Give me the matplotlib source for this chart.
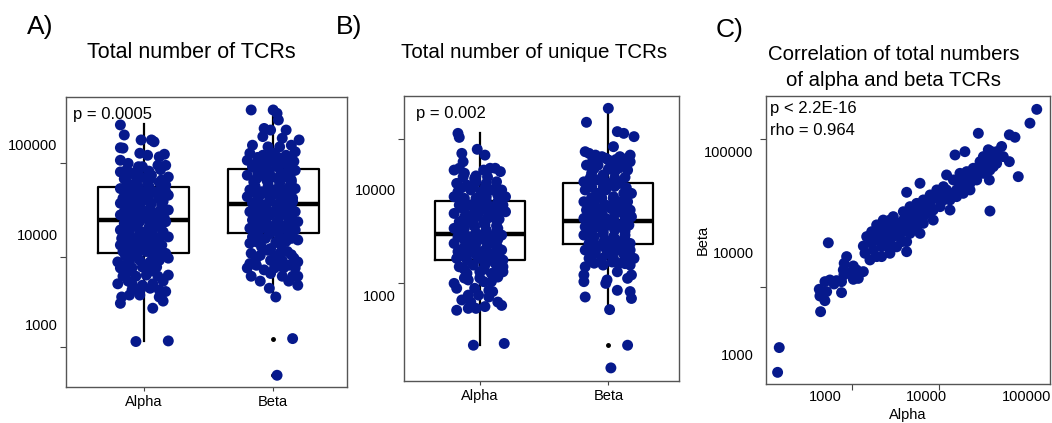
import matplotlib.pyplot as plt

plt.rcParams['font.family'] = ['Liberation Sans', 'DejaVu Sans']

W, H = 1052, 423
dot = '#06198c'

# ---- panel A: total number of TCRs (jitter offset, count)
a_alpha_jit = [-0.18, -0.15, -0.02, 0.06, 0.08, -0.18, -0.16, -0.03, 0.03, 0.16, 0.12,
               -0.18, -0.12, -0.04, -0.01, 0.11, 0.17, -0.18, -0.09, -0.02, 0.06, 0.19,
               -0.13, -0.06, 0.03, 0.12, 0.17, -0.18, -0.09, -0.01, 0.08, 0.17,
               -0.16, -0.07, 0.02, 0.12, 0.19, -0.18, -0.11, -0.03, 0.06, 0.14,
               -0.15, -0.06, 0.03, 0.12, 0.19, -0.18, -0.09, -0.01, 0.08, 0.16,
               -0.15, -0.06, 0.05, 0.12, 0.17, -0.18, -0.11, -0.02, 0.07, 0.15,
               -0.17, -0.08, 0.01, 0.10, 0.19, -0.18, -0.09, -0.02, 0.06, 0.14,
               -0.16, -0.07, 0.02, 0.11, 0.17, -0.20, -0.11, -0.03, 0.05, 0.12, 0.19,
               -0.18, -0.09, -0.01, 0.10, -0.16, -0.06, 0.02, 0.11, 0.19,
               -0.20, -0.09, -0.01, 0.07, -0.09, -0.02, 0.05, 0.12, 0.17,
               -0.17, -0.11, -0.03, 0.12, -0.18, 0.15, 0.07, -0.06, 0.19,
               -0.13, -0.05, 0.04, 0.13, -0.15, -0.05, 0.05, 0.14,
               -0.13, -0.04, 0.04, 0.14, -0.14, -0.05, 0.05, 0.14,
               -0.13, -0.04, 0.04, 0.15, -0.12, -0.03, 0.05, 0.14,
               -0.13, -0.04, 0.04, 0.14, -0.12, -0.03, 0.06, 0.14,
               -0.13, -0.05, 0.04, 0.13, -0.13, -0.03, 0.05, 0.14,
               -0.13, -0.05, 0.04, 0.12, -0.12, -0.03, 0.07,
               -0.14, -0.05, 0.07, 0.15, -0.13, 0.03, -0.12, 0.06, 0.15, -0.12]
a_alpha = [163000, 126000, 111000, 111000, 106000, 91000, 90000, 79000, 75000, 77000, 72000,
           66000, 61000, 56000, 56000, 58000, 58000, 49000, 47000, 43000, 45000, 43000,
           38000, 37000, 37000, 37500, 35000, 32000, 31000, 29500, 29500, 29500,
           25000, 26000, 24000, 25000, 27000, 22000, 21000, 21000, 22000, 21000,
           17700, 18500, 17700, 17700, 18500, 16300, 15600, 14900, 15600, 14900,
           13100, 12600, 13100, 13100, 13700, 11100, 10600, 10600, 11100, 10600,
           8950, 8950, 8600, 8950, 9300, 7550, 7200, 7550, 7200, 7550,
           6400, 6100, 6400, 6400, 6100, 4900, 4900, 5100, 4900, 5100, 5400,
           4200, 4200, 4300, 4300, 3400, 3400, 3500, 3400, 3500,
           2800, 2800, 2700, 2800, 2400, 2500, 2500, 2400, 2300,
           2000, 2100, 2100, 2000, 1700, 1800, 1500, 640, 650,
           52000, 51000, 50000, 52000, 41000, 40000, 41000, 40000,
           34000, 33000, 34000, 33000, 28000, 27500, 28000, 27000,
           23500, 23000, 23500, 23000, 19500, 20000, 19500, 20000,
           16800, 16500, 16800, 16500, 14000, 13800, 14000, 14200,
           11800, 12000, 11800, 12000, 9800, 9900, 9800, 9700,
           8200, 8300, 8200, 8100, 6900, 6800, 6900,
           5700, 5600, 5700, 5800, 4600, 4600, 3800, 3900, 3000, 3000]
a_beta_jit = [-0.17, 0.00, 0.03, 0.04, -0.07, -0.02, 0.10, -0.08, 0.07, 0.20,
              -0.16, -0.04, 0.05, 0.14, -0.18, -0.08, 0.01, 0.10, 0.17,
              -0.20, -0.12, -0.02, 0.07, 0.16, -0.16, -0.07, 0.03, 0.12, 0.17,
              -0.20, -0.09, -0.01, 0.10, -0.15, -0.04, 0.05, 0.14,
              -0.18, -0.09, 0.01, 0.10, 0.17, -0.20, -0.11, -0.02, 0.07, 0.15,
              -0.16, -0.07, 0.03, 0.11, -0.18, -0.09, 0.01, 0.10, 0.17,
              -0.16, -0.07, 0.03, 0.12, 0.19, -0.18, -0.09, -0.01, 0.08, 0.17,
              -0.16, -0.06, 0.05, 0.14, 0.19, -0.18, -0.09, -0.02, 0.06,
              -0.17, -0.04, 0.05, 0.11, -0.13, -0.02, 0.07, 0.16,
              -0.18, 0.02, 0.12, 0.19, -0.20, -0.13, -0.07, 0.01, 0.08, 0.17,
              -0.17, -0.02, 0.07, 0.15, 0.19, -0.03, 0.19, 0.02, 0.15, 0.03,
              -0.12, -0.03, 0.05, 0.13, -0.14, -0.05, 0.05, 0.14,
              -0.12, -0.03, 0.06, 0.14, -0.13, -0.05, 0.04, 0.14,
              -0.14, -0.04, 0.05, 0.13, -0.13, -0.04, 0.04, 0.13,
              -0.12, -0.03, 0.06, 0.15, -0.13, -0.05, 0.05, 0.14,
              -0.12, -0.03, 0.05, 0.14, -0.13, -0.04, 0.05, 0.13,
              -0.12, -0.03, 0.04, 0.12, -0.13, 0.02, 0.10,
              -0.10, 0.02, 0.14, -0.10, 0.12]
a_beta = [239000, 239000, 219000, 185000, 149000, 143000, 143000, 121000, 116000, 111000,
          97000, 93000, 93000, 97000, 79000, 75000, 79000, 75000, 82000,
          66000, 64000, 64000, 66000, 64000, 56000, 54000, 56000, 54000, 51000,
          45000, 45000, 43000, 43000, 38000, 37000, 37000, 38000,
          31000, 29500, 31000, 29500, 32000, 26000, 26000, 25000, 26000, 25000,
          22000, 21000, 21000, 22000, 17700, 17000, 17700, 17000, 17700,
          14300, 14300, 13700, 14300, 13700, 11600, 11600, 11100, 11600, 11100,
          9300, 8950, 9300, 8950, 8600, 7900, 7200, 6900, 7550,
          6100, 6600, 6100, 6400, 5400, 5100, 5100, 5400,
          4700, 4700, 4500, 4900, 4200, 4500, 4000, 4200, 4200, 4200,
          3400, 3650, 3400, 3400, 3400, 2500, 2700, 2000, 690, 270,
          71000, 72000, 70000, 71000, 59000, 60000, 59000, 60000,
          49000, 50000, 48000, 49000, 41000, 40000, 41000, 40000,
          34000, 33500, 34000, 34500, 28000, 27500, 28000, 27500,
          23500, 23000, 23500, 23000, 19500, 19000, 19500, 19800,
          15800, 16000, 15800, 15600, 12800, 12600, 12800, 12500,
          10200, 10000, 10300, 10000, 8200, 8100, 8300,
          5800, 5600, 5900, 3000, 3000]
# box stats: whisker low, q1, median, q3, whisker high
a_alpha_box = [650, 6150, 14300, 33200, 167000]
a_beta_box = [2000, 10200, 21500, 53000, 239000]
a_beta_out = [680, 270]

# ---- panel B: total number of unique TCRs
b_alpha_jit = [-0.17, -0.16, -0.02, 0.04, -0.14, -0.13, -0.20, -0.16,
               -0.12, -0.04, 0.03, 0.08, 0.12, 0.16, -0.18, -0.10, -0.03, 0.05, 0.13,
               -0.17, -0.07, 0.01, 0.10, 0.17, -0.20, -0.12, -0.03, 0.05, 0.14, 0.20,
               -0.16, -0.08, 0.01, 0.09, 0.18, -0.20, -0.10, -0.01, 0.07, 0.14, 0.20,
               -0.16, -0.07, 0.03, 0.12, -0.20, -0.12, -0.04, 0.05, 0.14,
               -0.17, -0.08, 0.01, 0.09, 0.17, -0.20, -0.10, -0.03, 0.07, 0.13,
               -0.17, -0.07, 0.01, 0.10, 0.17, -0.18, -0.10, -0.01, 0.08, 0.18,
               -0.16, -0.05, 0.04, 0.12, 0.18, -0.10, 0.00, 0.09, 0.18,
               -0.09, 0.03, 0.09, -0.20, -0.18, -0.04, 0.07, 0.10,
               -0.09, -0.01, 0.07, -0.14, -0.07, 0.14, 0.17,
               -0.18, -0.09, -0.03, 0.04, -0.05, 0.19,
               -0.13, -0.03, 0.06, -0.14, -0.05, 0.04, 0.13,
               -0.13, -0.03, 0.05, 0.14, -0.13, -0.04, 0.04, 0.13,
               -0.12, -0.03, 0.06, 0.15, -0.13, -0.05, 0.04, 0.13,
               -0.13, -0.03, 0.05, 0.13, -0.12, -0.04, 0.04, 0.14,
               -0.13, -0.04, 0.05, 0.14, -0.13, -0.03, 0.05, 0.14,
               -0.12, 0.03, 0.13, -0.12, 0.00, 0.14]
b_alpha = [33500, 30700, 23700, 20900, 21700, 18100, 15100, 15700,
           14100, 12600, 15100, 15700, 15700, 14600, 11300, 10900, 11700, 11300, 11700,
           9440, 9800, 9440, 9800, 9800, 8470, 8160, 8160, 8470, 8780, 8470,
           7060, 7060, 7330, 6810, 7060, 5890, 5680, 5890, 5680, 5890, 6110,
           4920, 5100, 4920, 5290, 4260, 4260, 4410, 4100, 4260,
           3550, 3550, 3680, 3550, 3680, 3070, 2960, 3070, 3070, 2960,
           2570, 2570, 2570, 2470, 2660, 2220, 2140, 2220, 2140, 2140,
           1850, 1920, 1920, 1990, 1850, 1600, 1660, 1600, 1660,
           1390, 1340, 1340, 1290, 1160, 1160, 1110, 1080,
           1000, 1000, 960, 900, 860, 860, 800,
           720, 750, 750, 780, 337, 350,
           13000, 13300, 13000, 10300, 10500, 10300, 10200,
           7800, 7700, 7800, 7600, 6500, 6400, 6500, 6300,
           5400, 5500, 5300, 5200, 4600, 4700, 4600, 4500,
           3900, 3850, 3900, 3950, 3300, 3250, 3300, 3350,
           2750, 2800, 2750, 2800, 2350, 2400, 2350, 2300,
           1750, 1750, 1720, 1450, 1450, 1480]
b_beta_jit = [0.00, -0.17, 0.07, 0.12, 0.20, 0.04,
              -0.18, -0.15, -0.10, -0.05, 0.00, 0.09, 0.17,
              -0.17, -0.08, 0.02, 0.11, 0.17, -0.13, -0.04, 0.05, 0.15,
              -0.19, -0.08, 0.00, 0.09, -0.18, -0.09, -0.02, 0.04, 0.12, 0.18,
              -0.19, -0.11, -0.02, 0.07, 0.15, -0.17, -0.08, 0.02, 0.09, 0.17,
              -0.19, -0.10, -0.02, 0.05, 0.13, 0.18, -0.18, -0.09, 0.00, 0.09, 0.16,
              -0.19, -0.11, -0.04, 0.04, 0.13, -0.15, -0.06, 0.02, 0.09, 0.17,
              -0.18, -0.10, -0.01, 0.08, 0.17, -0.15, -0.05, 0.04, 0.13, 0.20,
              -0.18, -0.04, 0.08, 0.17, -0.19, -0.01, 0.07, 0.15, 0.18,
              -0.19, -0.02, 0.07, -0.18, 0.17, 0.18, 0.01, 0.15, 0.02,
              -0.12, -0.02, 0.06, 0.14, -0.11, 0.00, 0.08,
              -0.14, -0.04, 0.05, 0.13, -0.13, -0.04, 0.05, 0.14,
              -0.13, -0.05, 0.04, 0.13, -0.13, -0.04, 0.05, 0.13,
              -0.14, -0.05, 0.05, 0.13, -0.13, -0.04, 0.04, 0.13,
              -0.13, -0.04, 0.05, 0.13, -0.12, -0.03, 0.05, 0.13,
              -0.12, -0.03, 0.06, 0.14, -0.12, 0.02, 0.12, -0.11, 0.03, 0.13]
b_beta = [57700, 42600, 34800, 33500, 31200, 25100,
          22500, 21700, 20900, 20200, 18800, 20200, 20900,
          16800, 16800, 16200, 18100, 18100, 14100, 13600, 14600, 15100,
          11700, 12200, 11300, 11300, 9800, 9100, 9800, 8470, 9100, 9100,
          7600, 7330, 7060, 7600, 7600, 6340, 6110, 6570, 6110, 6340,
          5290, 5100, 5290, 4920, 5480, 5480, 4410, 4410, 4570, 4410, 4570,
          3680, 3550, 3820, 3550, 3680, 3070, 2960, 3070, 3190, 3070,
          2660, 2570, 2570, 2660, 2660, 2220, 2220, 2220, 2300, 2220,
          1850, 1920, 1990, 1920, 1550, 1390, 1660, 1440, 1550,
          1340, 1290, 1110, 960, 1080, 930, 730, 337, 206,
          19000, 19500, 19000, 19300, 15600, 15400, 15700,
          12800, 13000, 12700, 12900, 10500, 10400, 10600, 10300,
          8300, 8200, 8100, 8300, 6900, 6800, 6900, 6800,
          5800, 5900, 5800, 5900, 4900, 4800, 4900, 5000,
          4100, 4000, 4100, 4000, 3350, 3300, 3400, 3350,
          2800, 2850, 2800, 2750, 2400, 2400, 2450, 2000, 2050, 1980]
b_alpha_box = [337, 2140, 3730, 7700, 33500]
b_beta_box = [730, 3030, 5030, 11300, 57700]
b_beta_out = [337, 206]

# ---- panel C: alpha vs beta totals
c_alpha = [340, 353, 906, 879, 892, 1000, 1040, 1000, 1120, 1300, 1230, 1460, 1460,
           1540, 1520, 1700, 1550, 1640, 1080, 1910, 2060, 1910, 2140, 2400,
           2400, 2490, 2790, 3010, 3250, 3640, 3780, 3250, 3640, 4400, 4400, 4750,
           5130, 5740, 5970, 6440, 6440, 3010, 3640, 4400, 4080, 4940, 5320, 5970,
           6950, 7500, 8090, 9420, 11000, 5970, 6950, 8090, 9420, 11000, 12800,
           14900, 17300, 17300, 21700, 25300, 29400, 31800, 34300, 39900, 43000,
           46400, 50100, 56100, 20100, 23400, 8730, 6440, 16000, 19400, 24300,
           33000, 66900, 76100, 107000, 125000, 66900, 82000, 43000, 42400, 31800,
           27300, 23400, 20100, 14900, 12800, 11000, 9420, 8090, 6950, 6440, 4750,
           4400, 3780, 3250, 2900, 2590, 2900, 3640, 4400, 5320, 6950, 8730, 9420,
           11800, 13800, 14900, 17300, 20100, 23400, 27300, 31800, 37000, 43000,
           50100, 58300, 46400, 34300, 29400, 25300, 21700, 18700, 16000, 13800,
           11800, 10200, 8090, 6950, 3640, 3930, 5130, 5970, 6690, 44700, 39900,
           37000, 48200, 41400, 3250]
c_beta = [667, 1170, 2640, 4390, 3770, 3390, 4160, 5220, 5420, 5340, 4950, 5220, 4070,
          6070, 6800, 6400, 7910, 9210, 12600, 7450, 6800, 5500, 5620, 6550,
          11700, 9930, 8540, 10700, 13400, 15000, 12000, 9210, 9210, 9930, 12500, 14500,
          11500, 12900, 16200, 12900, 10300, 15600, 17500, 16200, 18200, 18200, 19600, 21100,
          19600, 17500, 21100, 22800, 24600, 25500, 24600, 25500, 27500, 30800, 34600,
          37300, 38700, 26500, 45000, 52400, 58700, 68300, 70900, 76400, 82500,
          89000, 99600, 112000, 41800, 38700, 48600, 39600, 58700, 92400, 99600,
          151000, 146000, 138000, 190000, 260000, 79400, 56500, 25900, 52400, 60900,
          41800, 54400, 52400, 45000, 41800, 37300, 33300, 30800, 28600, 22800, 22800,
          21100, 21100, 18900, 16200, 14500, 12500, 11500, 11100, 15000, 15600, 15600, 19600,
          21100, 28600, 33300, 33300, 35900, 45000, 48600, 52400, 60900, 65700,
          76400, 89000, 70900, 79400, 68300, 63300, 60900, 52400, 41800, 37300,
          26500, 27500, 16900, 21100, 13400, 15000, 16900, 18200, 17500, 99600, 85700,
          89000, 82500, 104000, 16900]

groups = ['Alpha', 'Beta']


def px_axes(l, t, r, b):
    return fig.add_axes([l / W, 1 - b / H, (r - l) / W, (b - t) / H])


def ftext(x, y, s, **kw):
    fig.text(x / W, 1 - y / H, s, **kw)


def style_axes(ax):
    for sp in ax.spines.values():
        sp.set_color('#555555')
        sp.set_linewidth(1.0)


def box_panel(ax, boxes, outs, pts, ylim, minor):
    stats = []
    for name, bx, out in zip(groups, boxes, outs):
        stats.append(dict(label=name, whislo=bx[0], q1=bx[1], med=bx[2],
                          q3=bx[3], whishi=bx[4], fliers=out))
    ax.bxp(stats, positions=[1, 2], widths=0.7, showcaps=False,
           boxprops=dict(color='black', linewidth=1.6),
           whiskerprops=dict(color='black', linewidth=1.6),
           medianprops=dict(color='black', linewidth=3.2),
           flierprops=dict(marker='o', markersize=2.5, markerfacecolor='black',
                           markeredgecolor='black'), zorder=2)
    for i, (jit, vals) in enumerate(pts):
        ax.scatter([i + 1 + j for j in jit], vals, s=62, color=dot,
                   edgecolors='none', zorder=3)
    ax.set_yscale('log')
    ax.set_yticks([1000, 10000, 100000], ['1000', '10000', '100000'])
    ax.set_yticks(minor, minor=True)
    ax.set_ylim(*ylim)
    ax.yaxis.set_minor_formatter(plt.NullFormatter())
    ax.tick_params(axis='y', which='major', length=0, labelsize=10.5, pad=6)
    ax.tick_params(axis='y', which='minor', length=4, width=0.8, color='#444444')
    ax.tick_params(axis='x', length=3, width=0.8, color='#444444', labelsize=10.5, pad=3)
    style_axes(ax)


fig = plt.figure(figsize=(W / 100, H / 100), dpi=100)

# A
axA = px_axes(66, 97, 347, 387)
box_panel(axA, [a_alpha_box, a_beta_box], [[], a_beta_out],
          [(a_alpha_jit, a_alpha), (a_beta_jit, a_beta)],
          (200, 333000), [61500, 5560, 560])
axA.set_xlim(0.4, 2.57)
axA.text(0.025, 0.94, 'p = 0.0005', transform=axA.transAxes, fontsize=12,
         ha='left', va='center')

# B
axB = px_axes(404, 96, 679, 381)
box_panel(axB, [b_alpha_box, b_beta_box], [[], b_beta_out],
          [(b_alpha_jit, b_alpha), (b_beta_jit, b_beta)],
          (155, 75400), [29700, 1300])
axB.set_xlim(0.41, 2.55)
axB.text(0.045, 0.94, 'p = 0.002', transform=axB.transAxes, fontsize=12,
         ha='left', va='center')

# C
axC = px_axes(766, 96, 1050, 384)
axC.scatter(c_alpha, c_beta, s=62, color=dot, edgecolors='none', zorder=3)
axC.set_xscale('log')
axC.set_yscale('log')
axC.set_xticks([1000, 10000, 100000], ['1000', '10000', '100000'])
axC.set_yticks([1000, 10000, 100000], ['1000', '10000', '100000'])
axC.set_xticks([1850, 13500], minor=True)
axC.set_yticks([4630, 133000], minor=True)
axC.set_xlim(261, 169000)
axC.set_ylim(512, 352000)
axC.xaxis.set_minor_formatter(plt.NullFormatter())
axC.yaxis.set_minor_formatter(plt.NullFormatter())
axC.tick_params(which='major', length=0, labelsize=10.5)
axC.tick_params(axis='y', which='major', pad=9)
axC.tick_params(axis='x', which='major', pad=4)
axC.tick_params(which='minor', length=4, width=0.8, color='#444444')
axC.set_xlabel('Alpha', fontsize=10.5, labelpad=3)
axC.set_ylabel('Beta', fontsize=10.5, labelpad=-4)
style_axes(axC)
axC.text(0.015, 0.955, 'p < 2.2E-16', transform=axC.transAxes, fontsize=12,
         ha='left', va='center')
axC.text(0.015, 0.88, 'rho = 0.964', transform=axC.transAxes, fontsize=12,
         ha='left', va='center')

# panel letters and titles
ftext(27, 27, 'A)', fontsize=19, va='center')
ftext(336, 27, 'B)', fontsize=19, va='center')
ftext(716, 30, 'C)', fontsize=19, va='center')
ftext(191, 53, 'Total number of TCRs', fontsize=15.5, ha='center', va='center')
ftext(534, 53, 'Total number of unique TCRs', fontsize=14.8, ha='center', va='center')
ftext(894, 55, 'Correlation of total numbers', fontsize=14.7, ha='center', va='center')
ftext(894, 80, 'of alpha and beta TCRs', fontsize=14.7, ha='center', va='center')

fig.savefig('out.png', dpi=100)
